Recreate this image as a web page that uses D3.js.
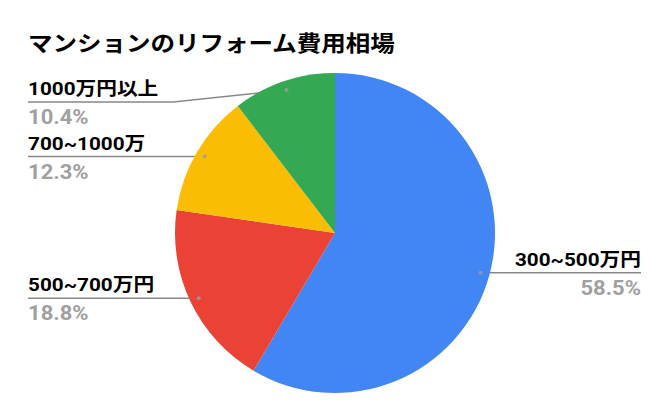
<!DOCTYPE html>
<html>
<head>
<meta charset="utf-8">
<script src="https://cdn.jsdelivr.net/npm/d3@7"></script>
<style>
  body { margin: 0; background: #fff; }
  text { font-family: Roboto, "Noto Sans CJK JP", sans-serif; }
</style>
</head>
<body>
<script>
// chart data
var title = "マンションのリフォーム費用相場";
var categories = ["300~500万円", "500~700万円", "700~1000万", "1000万円以上"];
var values = [58.5, 18.8, 12.3, 10.4];
var colors = ["#4285f4", "#ea4335", "#fbbc04", "#34a853"];

var width = 669, height = 403;
var cx = 335, cy = 233, radius = 160;
var dotRadius = 151;
var leftX = 28, rightX = 641;
var minLineY = 102;

var svg = d3.select("body").append("svg")
    .attr("width", width)
    .attr("height", height);

var titleText = svg.append("text")
    .attr("font-size", 22)
    .attr("font-weight", "bold")
    .attr("fill", "#000")
    .attr("font-family", "'Noto Sans CJK JP', sans-serif")
    .text(title);
var tw = titleText.node().getComputedTextLength();
titleText.attr("transform", "translate(28,51) scale(" + (367 / tw) + ",1)");

var data = categories.map(function(c, i) {
    return { name: c, value: values[i], color: colors[i] };
});

var pie = d3.pie().sort(null).value(function(d) { return d.value; });
var arcs = pie(data);

var arc = d3.arc().innerRadius(0).outerRadius(radius);
var dotArc = d3.arc().innerRadius(dotRadius).outerRadius(dotRadius);

// label positions
arcs.forEach(function(a) {
    var c = dotArc.centroid(a);
    a.dot = [cx + c[0], cy + c[1]];
    a.right = c[0] > 0;
    a.lineY = Math.max(a.dot[1], minLineY);
});

var g = svg.append("g");

// leader lines go under the pie
var lines = g.append("g");

var pieG = g.append("g").attr("transform", "translate(" + cx + "," + cy + ")");
pieG.selectAll("path")
    .data(arcs)
    .enter().append("path")
    .attr("d", arc)
    .attr("fill", function(d) { return d.data.color; });

g.append("g").selectAll("circle")
    .data(arcs)
    .enter().append("circle")
    .attr("cx", function(d) { return d.dot[0]; })
    .attr("cy", function(d) { return d.dot[1]; })
    .attr("r", 2)
    .attr("fill", "#9e9e9e")
    .attr("opacity", 0.8);

var labels = svg.append("g");

// widen glyphs horizontally around the anchor point
function addLabel(x, y, anchor, size, k, fill, str) {
    var t = labels.append("text")
        .attr("transform", "translate(" + x + "," + y + ") scale(" + k + ",1)")
        .attr("text-anchor", anchor)
        .attr("font-size", size)
        .attr("font-weight", "bold")
        .attr("fill", fill)
        .text(str);
    return t.node().getComputedTextLength() * k;
}

arcs.forEach(function(a) {
    var anchor = a.right ? "end" : "start";
    var x = a.right ? rightX : leftX;

    var w = addLabel(x, a.lineY - 7, anchor, 18.5, 1.12, "#000", a.data.name);
    addLabel(x, a.lineY + 22, anchor, 19.5, 1.13, "#a0a0a0", a.data.value.toFixed(1) + "%");

    var path;
    if (a.right) {
        path = "M" + rightX + "," + a.lineY + "H" + a.dot[0];
    } else {
        var elbow = leftX + w + 15;
        path = "M" + leftX + "," + a.lineY + "H" + Math.min(elbow, a.dot[0]) + "L" + a.dot[0] + "," + a.dot[1];
    }
    lines.append("path")
        .attr("d", path)
        .attr("fill", "none")
        .attr("stroke", "#888")
        .attr("stroke-width", 1.5);
});
</script>
</body>
</html>
